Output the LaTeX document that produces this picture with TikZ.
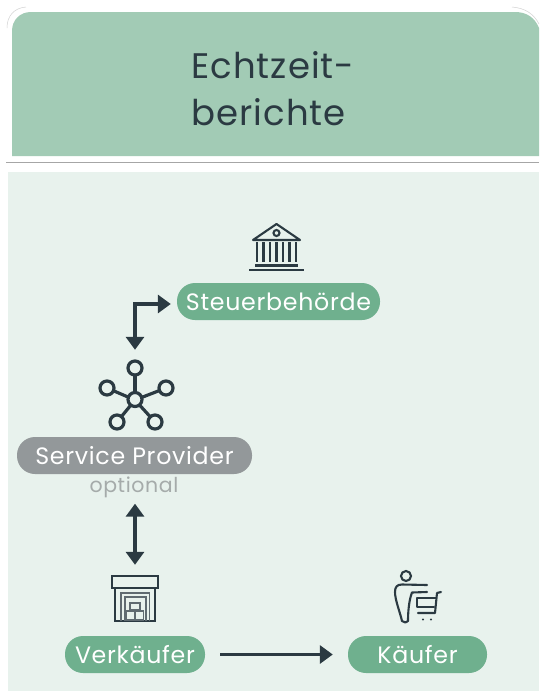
\documentclass[tikz,border=0pt]{standalone}
\usepackage{fontspec}
\setmainfont{Poppins}[LetterSpace=3]
\usetikzlibrary{arrows.meta}
\definecolor{dark}{HTML}{2B3A42}
\definecolor{headgreen}{HTML}{A2CBB5}
\definecolor{panelgreen}{HTML}{E8F2ED}
\definecolor{pillgreen}{HTML}{6FB08E}
\definecolor{pillgray}{HTML}{93989A}
\definecolor{optgray}{HTML}{A5ABAA}
\tikzset{
  pill/.style={rounded corners=18pt,fill=pillgreen,text=white,minimum height=37pt,inner sep=0pt,font=\fontsize{23.7}{23.7}\selectfont},
  flow/.style={draw=dark,line width=3.2pt,-{Triangle[length=13pt,width=18pt]}},
  flowboth/.style={draw=dark,line width=3.2pt,{Triangle[length=13pt,width=18pt]}-{Triangle[length=13pt,width=18pt]}},
  icon/.style={draw=dark,line width=2.1pt},
  thin icon/.style={draw=dark!75,line width=1.1pt},
  iconbox/.style={inner sep=0pt,minimum width=#1}
}
\begin{document}
\begin{tikzpicture}[x=1pt,y=-1pt]
\useasboundingbox (0,0) rectangle (539,691);
\fill[white] (0,0) rectangle (539,691);
% header
\draw[gray!35,line width=0.5pt] (7,28) .. controls (7,16) and (14,8) .. (26,7);
\draw[gray!35,line width=0.5pt] (512,7) .. controls (525,8) and (534,14) .. (539,24);
\fill[headgreen] (12,156) -- (12,31) .. controls (12,20) and (20,12) .. (31,12) -- (515,12) .. controls (527,12) and (535,18) .. (539,28) -- (539,156) -- cycle;
\draw[gray!70,line width=0.8pt] (6,162) -- (539,162);
\fill[panelgreen] (8,172) rectangle (539,691);
\node[anchor=base west,text=dark,inner sep=0pt,font=\fontsize{35.5}{35.5}\selectfont] (t1) at (191,78) {Echtzeit-};
\node[anchor=base west,text=dark,inner sep=0pt,font=\fontsize{35.5}{35.5}\selectfont] (t2) at (191,125) {berichte};
% pills
\node[pill,minimum width=203pt] (steuer) at (278.5,301.5) {Steuerbehörde};
\node[pill,fill=pillgray,minimum width=235pt] (sp) at (134.5,455.5) {Service Provider};
\node[text=optgray,inner sep=0pt,font=\fontsize{20.5}{20.5}\selectfont] (opt) at (134,487) {optional};
\node[pill,minimum width=140pt] (verk) at (135,654.5) {Verkäufer};
\node[pill,minimum width=139pt] (kauf) at (417.5,654.5) {Käufer};
% bank icon
\node[iconbox=55pt,minimum height=48pt] (bank) at (276.5,247) {};
\draw[icon,line join=round] (253,240) -- (276.5,224) -- (300,240) -- cycle;
\draw[icon] (276.5,233) circle (3);
\foreach \x in {257,263.5,270,276.5,283,289.5,296} \draw[icon] (\x,242) -- (\x,262);
\draw[icon] (255,265.5) -- (298,265.5);
\draw[icon] (249,270) -- (304,270);
% hub icon
\node[iconbox=74pt,minimum height=68pt] (hub) at (136,395) {};
\foreach \a/\b in {135/368,107/388,166/388,117/422,155/422} {
  \draw[icon,line width=3.2pt] (135,400) -- (\a,\b);
  \draw[icon,line width=3.2pt,fill=panelgreen] (\a,\b) circle (7);
}
\draw[icon,line width=3.2pt,fill=panelgreen] (135,399.5) circle (7);
% warehouse icon
\node[iconbox=46pt,minimum height=46pt] (ware) at (135,598) {};
\draw[icon] (112,576) rectangle (158,588);
\draw[icon] (115,588) -- (115,621) -- (155,621) -- (155,588);
\draw[thin icon,line width=1.4pt] (121,621) -- (121,593) -- (149.5,593) -- (149.5,621);
\draw[thin icon] (125,621) -- (125,597) -- (146,597) -- (146,621);
\draw[thin icon] (130,610) rectangle (140,603);
\draw[thin icon] (126.5,620) rectangle (135,611);
\draw[thin icon] (135,620) rectangle (143.5,611);
% buyer icon
\node[iconbox=50pt,minimum height=54pt] (buyer) at (417,597) {};
\draw[icon] (406,576) circle (5);
\draw[icon,line join=round,line cap=round] (427,585) -- (402,584.5) .. controls (397,584.5) and (395,587) .. (395,592) .. controls (395,600) and (400,612) .. (402,621) .. controls (404,623) and (407,623) .. (408,621) .. controls (408,612) and (409,600) .. (412,592.5) -- (427,592);
\draw[icon,line join=round,line cap=round] (441,592) -- (437,593) -- (435,613) -- (418,613);
\draw[icon,line join=round,line cap=round] (435.5,598) -- (417,598) -- (417,607) -- (434,607);
\fill[dark] (423,619.5) circle (1.2) (431,619.5) circle (1.2);
% connectors
\draw[flowboth,shorten <=11pt,shorten >=6pt] (hub.north -| 135,361) |- ([yshift=-2.5pt]steuer.west);
\draw[flowboth,shorten <=6pt,shorten >=10pt] (opt.south -| 135,497) -- (ware.north -| 135,575);
\draw[flow,shorten <=15pt,shorten >=15pt] (verk.east) -- (kauf.west);
\end{tikzpicture}
\end{document}
